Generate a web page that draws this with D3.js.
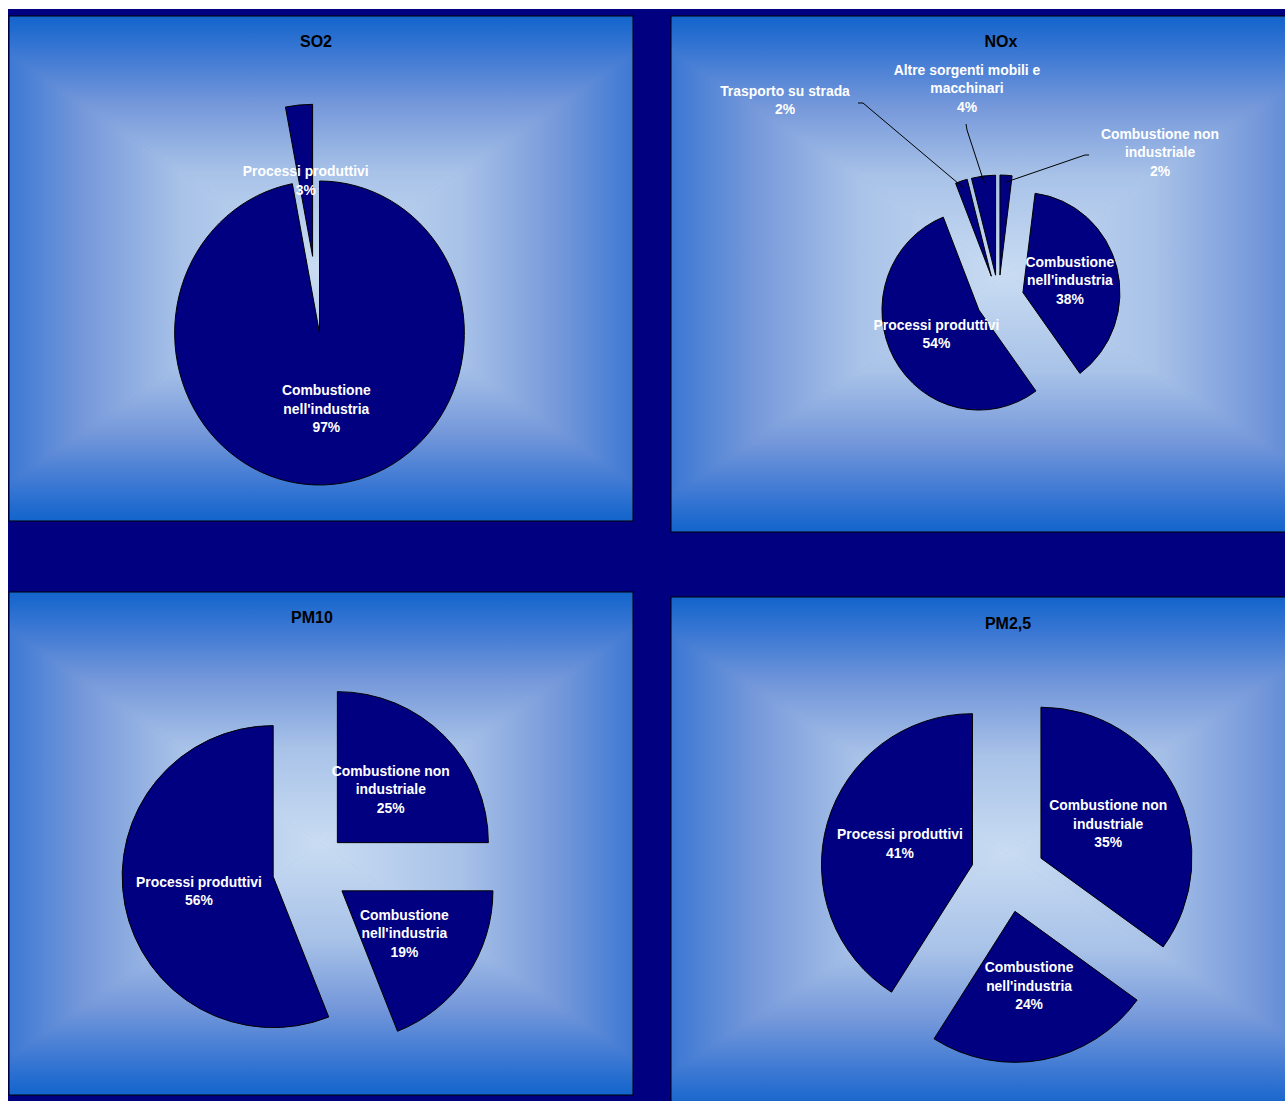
<!DOCTYPE html>
<html>
<head>
<meta charset="utf-8">
<script src="https://cdn.jsdelivr.net/npm/d3@7"></script>
<style>
  html, body { margin: 0; padding: 0; background: #fff; }
  svg { display: block; }
  text { font-family: "Liberation Sans", Arial, sans-serif; font-weight: bold; }
</style>
</head>
<body>
<div id="chart"></div>
<script>
var so2Categories = ["Combustione\nnell'industria", "Processi produttivi"];
var so2Values = [97, 3];

var noxCategories = ["Combustione non\nindustriale", "Combustione\nnell'industria", "Processi produttivi",
                     "Trasporto su strada", "Altre sorgenti mobili e\nmacchinari"];
var noxValues = [2, 38, 54, 2, 4];

var pm10Categories = ["Combustione non\nindustriale", "Combustione\nnell'industria", "Processi produttivi"];
var pm10Values = [25, 19, 56];

var pm25Categories = ["Combustione non\nindustriale", "Combustione\nnell'industria", "Processi produttivi"];
var pm25Values = [35, 24, 41];

var W = 1285, H = 1101;
var navy = "#000080";

// layout dei quattro riquadri
var charts = [
    {title: "SO2", cats: so2Categories, vals: so2Values,
     panel: {x: 9, y: 16, w: 624, h: 505}, tx: 316, ty: 47,
     cx: 319.5, cy: 333, r: 152, sx: 0.953, explode: [0, 77]},
    {title: "NOx", cats: noxCategories, vals: noxValues,
     panel: {x: 671, y: 16, w: 670, h: 516}, tx: 1001, ty: 47,
     cx: 998.5, cy: 299, r: 100, sx: 0.97, explode: [24, 26, 23, 24, 24],
     outside: {
         0: {at: [1160, 152], line: [[1089, 155], [1085, 155]]},
         3: {at: [785, 100], line: [[858, 103], [863, 103]]},
         4: {at: [967, 88], line: [[966, 124], [967, 130]]}
     }},
    {title: "PM10", cats: pm10Categories, vals: pm10Values,
     panel: {x: 9, y: 592, w: 624, h: 503}, tx: 312, ty: 623,
     cx: 310.5, cy: 869.5, r: 151, sx: 1, explode: [38, 38, 38]},
    {title: "PM2,5", cats: pm25Categories, vals: pm25Values,
     panel: {x: 671, y: 597, w: 670, h: 512}, tx: 1008, ty: 629,
     cx: 1008, cy: 875, r: 151, sx: 1, explode: [37, 37, 37]}
];

var svg = d3.select("#chart").append("svg")
    .attr("width", W)
    .attr("height", H);

var defs = svg.append("defs");
defs.append("clipPath").attr("id", "page")
    .append("rect").attr("width", W).attr("height", H);

// sfondo blu scuro
svg.append("rect")
    .attr("x", 8).attr("y", 9)
    .attr("width", W - 8).attr("height", H - 9)
    .attr("fill", navy);

// sfumatura "dal centro" rettangolare: 4 triangoli
var stops = [
    [0, "#1264cc"], [0.14, "#3a77d3"], [0.35, "#7598da"],
    [0.62, "#a8c2e8"], [1, "#c9dcf2"]
];
var ext = 55; // il rettangolo della sfumatura sporge a destra e a sinistra

function gradient(id, x1, y1, x2, y2) {
    var g = defs.append("linearGradient")
        .attr("id", id)
        .attr("gradientUnits", "userSpaceOnUse")
        .attr("x1", x1).attr("y1", y1)
        .attr("x2", x2).attr("y2", y2);
    stops.forEach(function(s) {
        g.append("stop").attr("offset", s[0]).attr("stop-color", s[1]);
    });
    return "url(#" + id + ")";
}

var root = svg.append("g").attr("clip-path", "url(#page)");

charts.forEach(function(c, ci) {
    var p = c.panel;
    var mx = p.x + p.w / 2, my = p.y + p.h / 2;
    var x0 = p.x - ext, x1 = p.x + p.w + ext, y0 = p.y, y1 = p.y + p.h;
    var tl = [x0, y0], tr = [x1, y0], br = [x1, y1], bl = [x0, y1];
    var ctr = [mx, my];

    defs.append("clipPath").attr("id", "clip" + ci)
        .append("rect")
        .attr("x", p.x).attr("y", p.y)
        .attr("width", p.w).attr("height", p.h);

    var tris = [
        {pts: [tl, tr, ctr], g: gradient("gt" + ci, mx, y0, mx, my)},
        {pts: [tr, br, ctr], g: gradient("gr" + ci, x1, my, mx, my)},
        {pts: [br, bl, ctr], g: gradient("gb" + ci, mx, y1, mx, my)},
        {pts: [bl, tl, ctr], g: gradient("gl" + ci, x0, my, mx, my)}
    ];
    var pg = root.append("g").attr("clip-path", "url(#clip" + ci + ")");
    tris.forEach(function(t) {
        pg.append("polygon")
            .attr("points", t.pts.map(function(q) { return q.join(","); }).join(" "))
            .attr("fill", t.g)
            .attr("stroke", t.g)
            .attr("stroke-width", 1);
    });
    root.append("rect")
        .attr("x", p.x).attr("y", p.y)
        .attr("width", p.w).attr("height", p.h)
        .attr("fill", "none")
        .attr("stroke", "#000")
        .attr("stroke-width", 1);

    // titolo
    root.append("text")
        .attr("x", c.tx).attr("y", c.ty)
        .attr("text-anchor", "middle")
        .attr("font-size", "16px")
        .attr("fill", "#000")
        .text(c.title);

    var data = c.cats.map(function(d, i) { return {name: d, value: c.vals[i], i: i}; });
    var pie = d3.pie().sort(null).value(function(d) { return d.value; });
    var arc = d3.arc().innerRadius(0).outerRadius(c.r);
    var arcs = pie(data);

    var g = root.append("g");
    arcs.forEach(function(a, i) {
        var mid = (a.startAngle + a.endAngle) / 2;
        var ux = Math.sin(mid) * c.sx, uy = -Math.cos(mid);
        var ex = c.explode[i] || 0;
        var ax = c.cx + ux * ex, ay = c.cy + uy * ex;
        a.apex = [ax, ay];
        a.u = [ux, uy];

        g.append("path")
            .attr("transform", "translate(" + ax + "," + ay + ") scale(" + c.sx + ",1)")
            .attr("d", arc(a))
            .attr("fill", navy)
            .attr("stroke", "#000")
            .attr("stroke-width", 1)
            .attr("vector-effect", "non-scaling-stroke");
    });

    arcs.forEach(function(a, i) {
        var lines = a.data.name.split("\n").concat([a.data.value + "%"]);
        var lx, ly;
        var out = c.outside && c.outside[i];
        if (out) {
            lx = out.at[0]; ly = out.at[1];
            var ux = a.u[0], uy = a.u[1];
            var end = [a.apex[0] + ux * c.r * 0.93, a.apex[1] + uy * c.r * 0.93];
            g.append("polyline")
                .attr("points", out.line.concat([end]).map(function(q) { return q.join(","); }).join(" "))
                .attr("fill", "none")
                .attr("stroke", "#000")
                .attr("stroke-width", 1);
        } else {
            lx = a.apex[0] + a.u[0] * c.r * 0.5;
            ly = a.apex[1] + a.u[1] * c.r * 0.5;
        }
        var lh = 18.5;
        var t = g.append("text")
            .attr("text-anchor", "middle")
            .attr("font-size", "13.9px")
            .attr("fill", "#fff");
        lines.forEach(function(s, k) {
            t.append("tspan")
                .attr("x", lx)
                .attr("y", ly + (k - (lines.length - 1) / 2) * lh + 5)
                .text(s);
        });
    });
});
</script>
</body>
</html>
